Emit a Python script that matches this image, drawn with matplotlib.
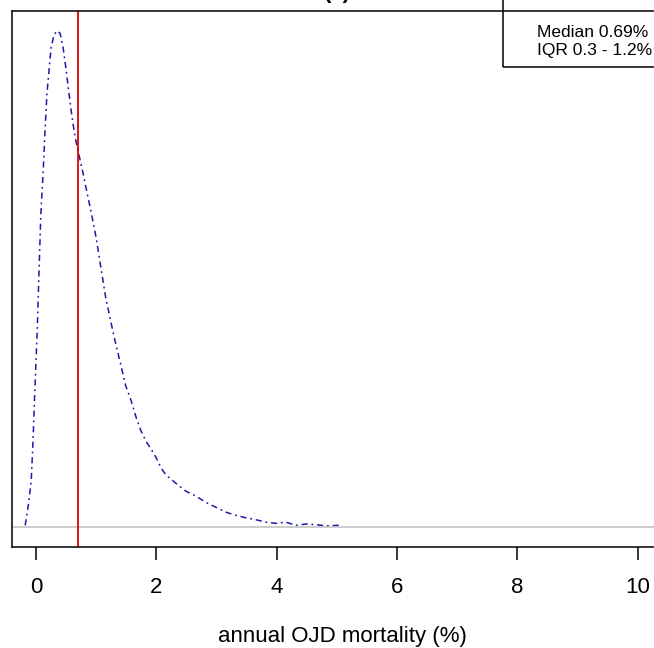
import matplotlib.pyplot as plt
from matplotlib.patches import Rectangle

plt.rcParams['font.family'] = ['Liberation Sans', 'DejaVu Sans']

# density curve (x = annual mortality %, y = density)
mort = [-0.18, -0.13, -0.08, -0.05, -0.02, 0.02, 0.05, 0.08, 0.12, 0.15, 0.18,
        0.22, 0.25, 0.30, 0.35, 0.40, 0.45, 0.50, 0.55, 0.60, 0.65, 0.70, 0.78,
        0.85, 0.92, 1.0, 1.08, 1.16, 1.25, 1.33, 1.41, 1.49, 1.58, 1.66, 1.74,
        1.83, 1.91, 1.99, 2.08, 2.16, 2.32, 2.49, 2.66, 2.82, 2.99, 3.16, 3.32,
        3.49, 3.65, 3.82, 3.99, 4.15, 4.32, 4.49, 4.65, 4.82, 5.05]
dens = [0.003, 0.034, 0.074, 0.139, 0.220, 0.317, 0.414, 0.505, 0.576, 0.640,
        0.697, 0.741, 0.773, 0.794, 0.800, 0.796, 0.773, 0.737, 0.697, 0.660,
        0.628, 0.606, 0.571, 0.538, 0.506, 0.466, 0.417, 0.369, 0.328, 0.293,
        0.261, 0.228, 0.204, 0.178, 0.156, 0.138, 0.126, 0.113, 0.095, 0.084,
        0.071, 0.058, 0.050, 0.040, 0.032, 0.024, 0.019, 0.015, 0.012, 0.008,
        0.006, 0.008, 0.003, 0.005, 0.004, 0.002, 0.003]
median = 0.69
peak = 0.80
legend_lines = ['Median 0.69%', 'IQR 0.3 - 1.2%']
xticks = [0, 2, 4, 6, 8, 10]

fig = plt.figure(figsize=(6.54, 6.48), dpi=100)
ax = fig.add_axes([0.0183, 0.1559, 1.012, 0.8272])

ax.plot(mort, dens, color='#1a1aa8', lw=1.1, linestyle=(0, (4, 2.5, 1.2, 2.5)))
ax.axhline(0, color='#bebebe', lw=1.1)
ax.axvline(median, color='#e00000', lw=1.3)

ax.set_xlim(-0.4, 10.6)
ax.set_ylim(-0.04 * peak, 1.04 * peak)
ax.set_yticks([])
ax.set_xticks(xticks)
ax.set_xticklabels([str(t) for t in xticks])
ax.tick_params(axis='x', length=9, width=1.1, pad=12.5, labelsize=16)
for s in ax.spines.values():
    s.set_linewidth(1.1)
ax.set_xlabel('annual OJD mortality (%)', fontsize=16, labelpad=20)

# legend box (cut by the right edge like the source)
ax.add_patch(Rectangle((0.7417, 0.8955), 0.3, 0.2, transform=ax.transAxes,
                       fill=False, edgecolor='black', lw=1.1, clip_on=False))
ax.text(0.793, 0.959, legend_lines[0], transform=ax.transAxes, fontsize=12.5,
        va='center', ha='left')
ax.text(0.793, 0.927, legend_lines[1], transform=ax.transAxes, fontsize=12.5,
        va='center', ha='left')

fig.text(337 / 654, 1.003, '(a)', fontsize=16, fontweight='bold', ha='center',
         va='baseline')

fig.savefig('out.png', dpi=100)
